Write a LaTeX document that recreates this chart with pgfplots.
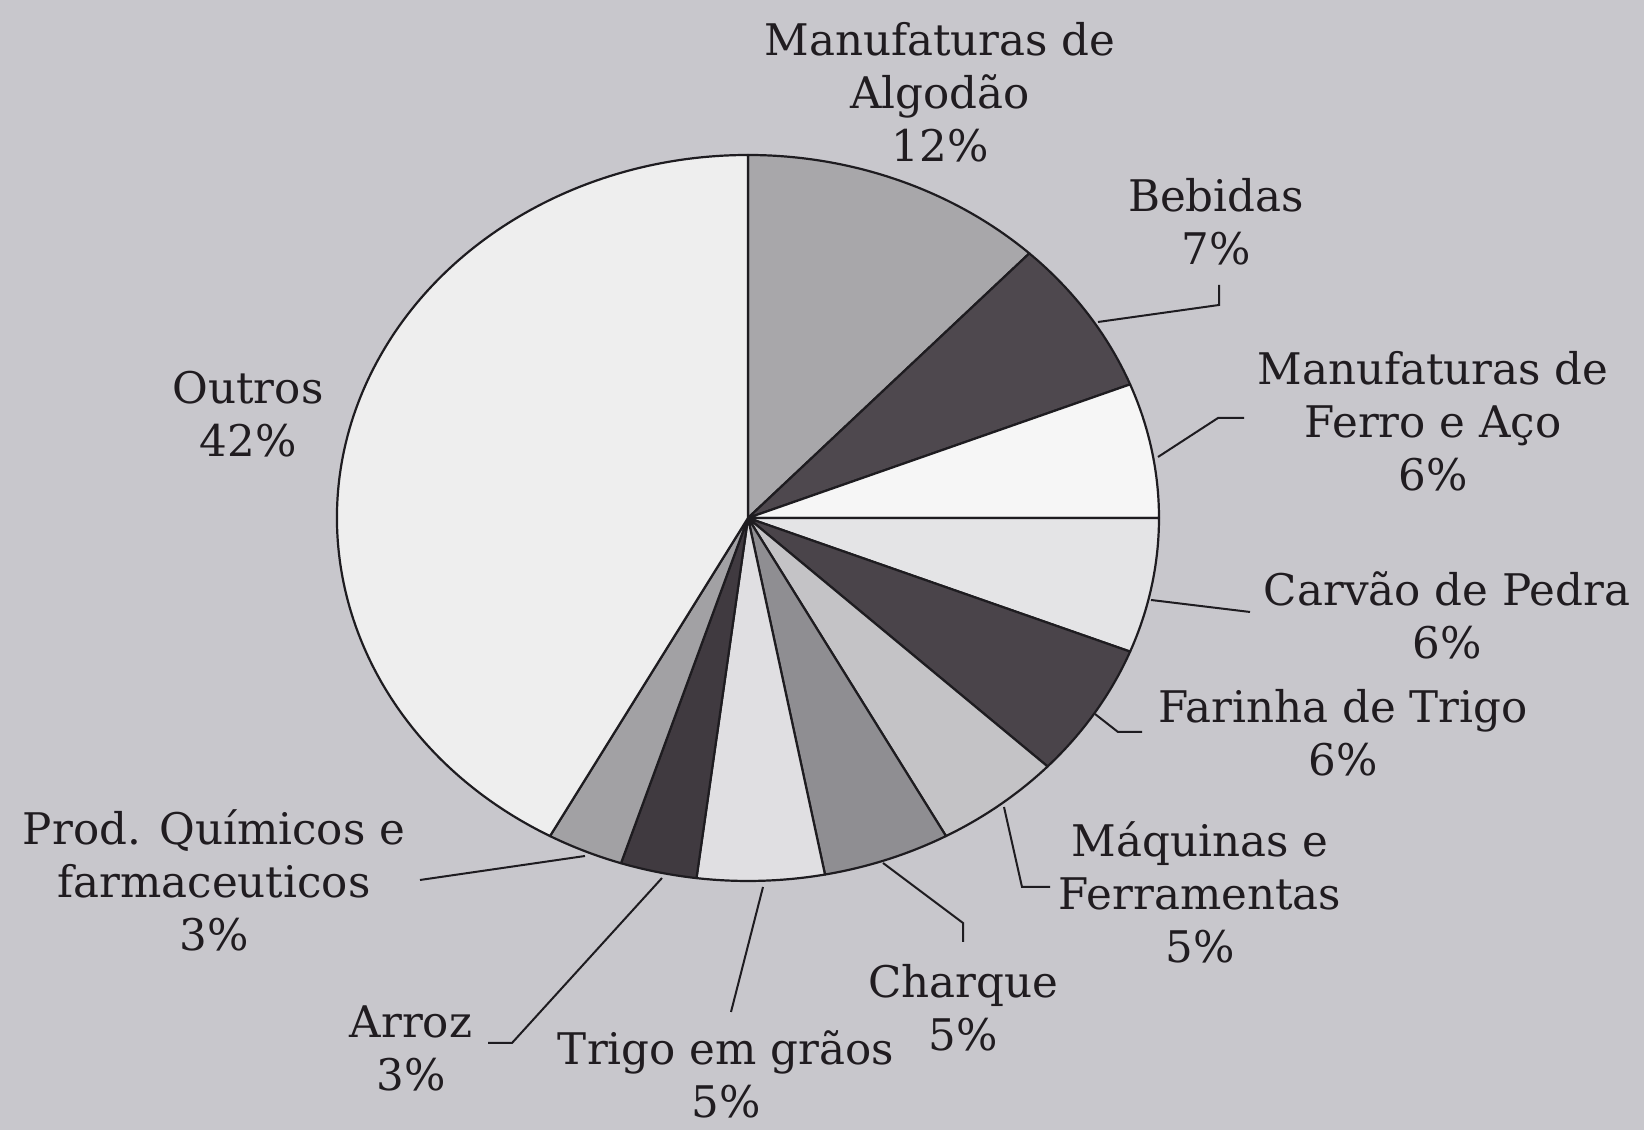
\documentclass[border=0pt]{standalone}
\usepackage{pgfplots}
\pgfplotsset{compat=1.18}
\usepackage{fontspec}
\setmainfont{DejaVu Serif}
\definecolor{bgc}{RGB}{200,199,204}
\definecolor{txt}{RGB}{32,28,32}
\definecolor{edge}{RGB}{30,28,32}
\definecolor{cAlg}{RGB}{168,167,170}
\definecolor{cBeb}{RGB}{78,72,78}
\definecolor{cFer}{RGB}{246,246,246}
\definecolor{cCar}{RGB}{228,228,230}
\definecolor{cFar}{RGB}{74,68,74}
\definecolor{cMaq}{RGB}{196,195,198}
\definecolor{cCha}{RGB}{143,142,146}
\definecolor{cTri}{RGB}{224,223,226}
\definecolor{cArr}{RGB}{64,58,64}
\definecolor{cQui}{RGB}{162,161,164}
\definecolor{cOut}{RGB}{238,238,238}
\tikzset{lbl/.style={font=\fontsize{12.4}{15.1}\selectfont, text=txt, align=center, inner sep=0pt}}
% #1 start (percent), #2 share (percent), #3 colour
\newcommand{\pieslice}[3]{%
  \filldraw[fill=#3, draw=edge, line width=0.22mm, line join=round]
    (axis cs:748,518) -- ++({90-3.6*(#1)}:41.1mm and 36.3mm)
    arc[start angle={90-3.6*(#1)}, end angle={90-3.6*((#1)+(#2))},
        x radius=41.1mm, y radius=36.3mm] -- cycle;}
\begin{document}
\begin{tikzpicture}
\begin{axis}[
  width=164.4mm, height=113mm, scale only axis,
  xmin=0, xmax=1644, ymin=0, ymax=1130, y dir=reverse,
  axis lines=none, ticks=none, clip=false,
]
\fill[bgc] (axis cs:0,0) rectangle (axis cs:1644,1130);
\coordinate (bl) at (axis cs:0,1130);
\coordinate (tr) at (axis cs:1644,0);
% slices: start, share
\pieslice{0}{12}{cAlg}   % Manufaturas de Algodao
\pieslice{12}{7}{cBeb}   % Bebidas
\pieslice{19}{6}{cFer}   % Ferro e Aco
\pieslice{25}{6}{cCar}   % Carvao de Pedra
\pieslice{31}{6}{cFar}   % Farinha de Trigo
\pieslice{37}{5}{cMaq}   % Maquinas e Ferramentas
\pieslice{42}{5}{cCha}   % Charque
\pieslice{47}{5}{cTri}   % Trigo em graos
\pieslice{52}{3}{cArr}   % Arroz
\pieslice{55}{3}{cQui}   % Prod. Quimicos
\pieslice{58}{42}{cOut}  % Outros
% leader lines
\begin{scope}[draw=edge, line width=0.2mm]
\draw (axis cs:1098,322) -- (axis cs:1219,305) -- (axis cs:1219,285);
\draw (axis cs:1158,457) -- (axis cs:1218,418) -- (axis cs:1244,418);
\draw (axis cs:1151,600) -- (axis cs:1250,612);
\draw (axis cs:1095,714) -- (axis cs:1118,732) -- (axis cs:1142,732);
\draw (axis cs:1004,807) -- (axis cs:1022,887) -- (axis cs:1050,887);
\draw (axis cs:883,863) -- (axis cs:963,923) -- (axis cs:963,942);
\draw (axis cs:763,887) -- (axis cs:731,1012);
\draw (axis cs:662,878) -- (axis cs:512,1043) -- (axis cs:488,1043);
\draw (axis cs:585,856) -- (axis cs:420,880);
\end{scope}
% labels
\node[lbl] at (axis cs:940,92)   {Manufaturas de\\Algodão\\12\%};
\node[lbl] at (axis cs:1216,222) {Bebidas\\7\%};
\node[lbl] at (axis cs:1433,421) {Manufaturas de\\Ferro e Aço\\6\%};
\node[lbl] at (axis cs:1447,615) {Carvão de Pedra\\6\%};
\node[lbl] at (axis cs:1343,733) {Farinha de Trigo\\6\%};
\node[lbl] at (axis cs:1200,892) {Máquinas e\\Ferramentas\\5\%};
\node[lbl] at (axis cs:963,1008) {Charque\\5\%};
\node[lbl] at (axis cs:726,1074) {Trigo em grãos\\5\%};
\node[lbl] at (axis cs:411,1048) {Arroz\\3\%};
\node[lbl] at (axis cs:214,880)  {Prod. Químicos e\\farmaceuticos\\3\%};
\node[lbl] at (axis cs:248,414)  {Outros\\42\%};
\end{axis}
\pgfresetboundingbox
\path[use as bounding box] (bl) rectangle (tr);
\end{tikzpicture}
\end{document}
